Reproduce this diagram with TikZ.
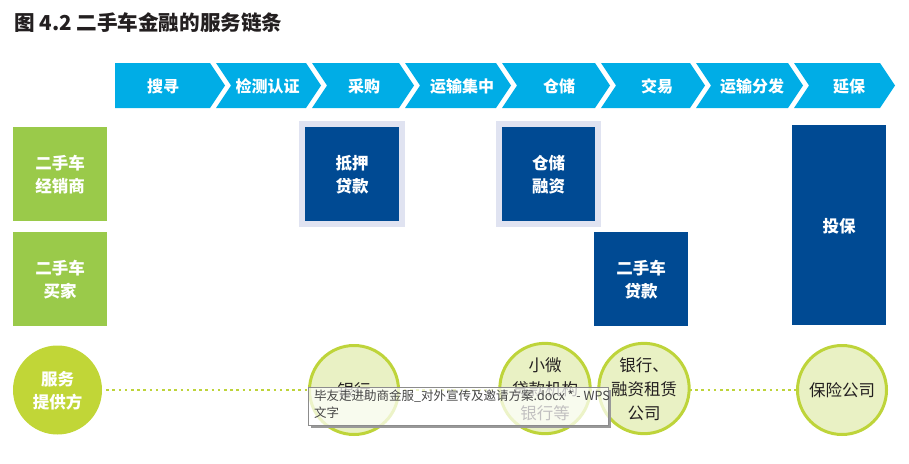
\documentclass[tikz,border=0pt]{standalone}
\usepackage{fontspec}
\newfontfamily\cjk{Noto Sans CJK SC}
\usetikzlibrary{backgrounds}
\definecolor{chevblue}{RGB}{0,173,230}
\definecolor{boxgreen}{RGB}{154,202,74}
\definecolor{darkblue}{RGB}{0,74,147}
\definecolor{framelav}{RGB}{224,227,241}
\definecolor{provgreen}{RGB}{193,214,55}
\definecolor{lightfill}{RGB}{233,241,196}
\definecolor{ringgreen}{RGB}{190,212,58}
\definecolor{txtdark}{RGB}{35,31,32}
\definecolor{tipgray}{RGB}{70,70,70}
\tikzset{
  chevlabel/.style={font=\cjk\bfseries\fontsize{16}{18}\selectfont, text=white},
  rolebox/.style={fill=boxgreen, minimum width=94pt, minimum height=94pt, inner sep=0pt,
    text=white, align=center, font=\cjk\bfseries\fontsize{16.5}{23}\selectfont},
  finbox/.style={fill=darkblue, inner sep=0pt, text=white, align=center,
    font=\cjk\bfseries\fontsize{16.5}{23}\selectfont},
  lavframe/.style={fill=framelav},
  provcirc/.style={circle, fill=provgreen, minimum size=89pt, inner sep=0pt, text=white,
    align=center, font=\cjk\bfseries\fontsize{16.5}{23}\selectfont},
  orgcirc/.style={circle, fill=lightfill, draw=ringgreen, line width=3pt, minimum size=89pt,
    inner sep=0pt, text=txtdark, align=center, font=\cjk\fontsize{16.5}{24}\selectfont},
  dotline/.style={draw=ringgreen, line width=2.6pt, dash pattern=on 2.6pt off 3.6pt},
}
\begin{document}
\begin{tikzpicture}[x=1pt,y=-1pt]
\useasboundingbox (0,0) rectangle (909,463);
% title
\node[anchor=west, inner sep=0pt, font=\cjk\bfseries\fontsize{20.6}{22}\selectfont, text=txtdark] (title) at (14,23) {图 4.2 二手车金融的服务链条};
% chevrons
\def\yt{63}\def\yb{108}\def\ym{85.5}\def\dp{15}
\fill[chevblue] (115,\yt) -- (210,\yt) -- (210+\dp,\ym) -- (210,\yb) -- (115,\yb) -- cycle;
\foreach \L/\R in {216/306, 312/399, 405/496, 502/595, 601/690, 696/788, 794/880}{
  \fill[chevblue] (\L,\yt) -- (\R,\yt) -- (\R+\dp,\ym) -- (\R,\yb) -- (\L,\yb) -- (\L+\dp,\ym) -- cycle;
}
\node[chevlabel] (c1) at (163,86) {搜寻};
\node[chevlabel] (c2) at (267.5,86) {检测认证};
\node[chevlabel] (c3) at (364,86) {采购};
\node[chevlabel] (c4) at (462,86) {运输集中};
\node[chevlabel] (c5) at (559,86) {仓储};
\node[chevlabel] (c6) at (657,86) {交易};
\node[chevlabel] (c7) at (752,86) {运输分发};
\node[chevlabel] (c8) at (849,86) {延保};
% left role boxes
\node[rolebox] (dealer) at (60,174) {二手车\\经销商};
\node[rolebox] (buyer) at (60,279) {二手车\\买家};
% finance boxes
\fill[lavframe] (299,121) rectangle (405,227);
\fill[lavframe] (496,121) rectangle (601,227);
\node[finbox, minimum width=94pt, minimum height=94pt] (mortgage) at (352,174) {抵押\\贷款};
\node[finbox, minimum width=93pt, minimum height=94pt] (storage) at (548.5,174) {仓储\\融资};
\node[finbox, minimum width=94pt, minimum height=94pt] (carloan) at (641,279) {二手车\\贷款};
\node[finbox, minimum width=94pt, minimum height=200pt] (insure) at (839,225) {投保};
% providers
\node[provcirc] (prov) at (57.5,390) {服务\\提供方};
\node[orgcirc] (bank) at (354,390) {银行};
\node[orgcirc] (micro) at (545,388.5) {小微\\贷款机构\\银行等};
\node[orgcirc] (lease) at (644,388.5) {银行、\\融资租赁\\公司};
\node[orgcirc] (ins) at (842,390) {保险公司};
\begin{scope}[on background layer]
  \draw[dotline] ([xshift=4pt]prov.east) -- (ins.west);
\end{scope}
% tooltip overlay
\fill[black!40] (608,390) rectangle (611,428);
\fill[black!40] (311,425) rectangle (611,428);
\node[draw=black!45, line width=0.8pt, fill=white, fill opacity=0.72, text opacity=1,
  minimum width=300pt, minimum height=38pt, anchor=north west, inner sep=0pt] (tip) at (308,387) {};
\node[anchor=north west, inner sep=0pt, align=left, text=tipgray,
  font=\cjk\fontsize{12.5}{17}\selectfont] (tiptext) at (314,390) {毕友走进助商金服\_对外宣传及邀请方案.docx * - WPS\\文字};
\end{tikzpicture}
\end{document}
